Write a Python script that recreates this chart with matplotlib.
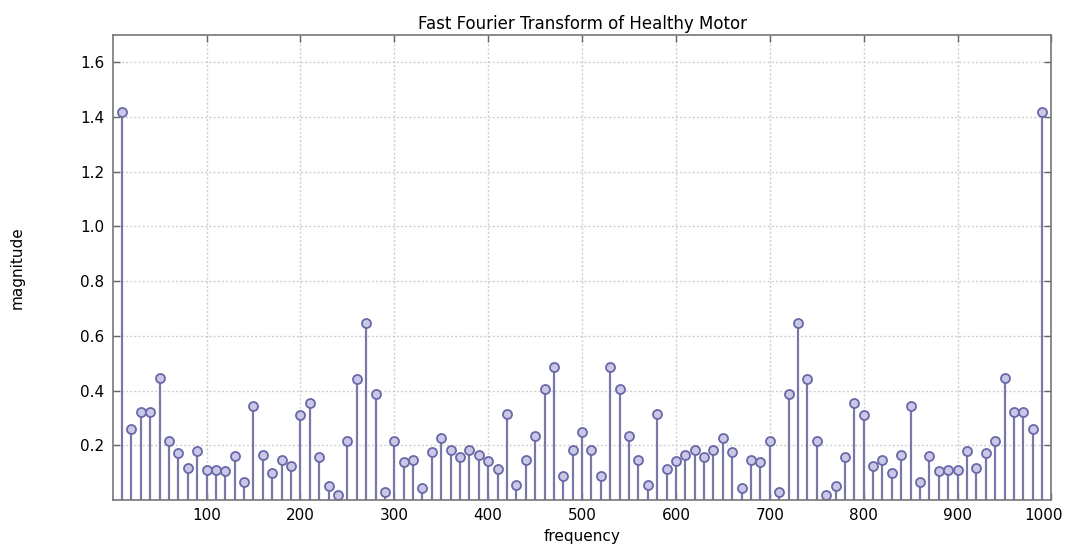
import numpy as np
import matplotlib
matplotlib.use('Agg')
import matplotlib.pyplot as plt
import matplotlib.transforms as mtransforms

# frequency bins and FFT magnitudes
freq = list(range(10, 1000, 10))
magnitude = [
    1.42, 0.26, 0.32, 0.32, 0.447, 0.215, 0.172, 0.118, 0.178, 0.108,
    0.108, 0.106, 0.16, 0.066, 0.342, 0.166, 0.10, 0.145, 0.126, 0.31,
    0.353, 0.156, 0.05, 0.019, 0.216, 0.444, 0.646, 0.389, 0.029, 0.216,
    0.138, 0.147, 0.044, 0.175, 0.228, 0.183, 0.156, 0.183, 0.165, 0.144,
    0.114, 0.313, 0.056, 0.145, 0.234, 0.404, 0.488, 0.088, 0.184, 0.247,
    0.184, 0.088, 0.488, 0.404, 0.234, 0.145, 0.056, 0.313, 0.114, 0.144,
    0.165, 0.183, 0.156, 0.183, 0.228, 0.175, 0.044, 0.147, 0.138, 0.216,
    0.029, 0.389, 0.646, 0.444, 0.216, 0.019, 0.05, 0.156, 0.353, 0.31,
    0.126, 0.145, 0.10, 0.166, 0.342, 0.066, 0.16, 0.106, 0.108, 0.108,
    0.178, 0.118, 0.172, 0.215, 0.447, 0.32, 0.32, 0.26, 1.42,
]
xticks = [100, 200, 300, 400, 500, 600, 700, 800, 900, 1000]
yticks = [0.2, 0.4, 0.6, 0.8, 1.0, 1.2, 1.4, 1.6]

fig = plt.figure(figsize=(10.68, 5.5), dpi=100)
ax = fig.add_axes([0.1055, 0.0909, 0.879, 0.8455])

markerline, stemlines, baseline = ax.stem(freq, magnitude, basefmt=' ')
plt.setp(stemlines, color='#7a78a8', linewidth=1.6)
plt.setp(markerline, marker='o', markersize=6.5, markerfacecolor='#c9c8e6',
         markeredgecolor='#6a68a8', markeredgewidth=1.3)

ax.set_xlim(0, 1000)
ax.set_ylim(0, 1.7)
ax.set_xticks(xticks)
ax.set_yticks(yticks)
ax.set_yticklabels(['{:.1f}'.format(v) for v in yticks])
ax.grid(True, linestyle=(0, (1.5, 1.5)), color='#cfcfcf', linewidth=1)
ax.set_axisbelow(True)
ax.tick_params(direction='in', length=5, width=1, color='#666666',
               top=True, right=True, labelsize=11, pad=6)
for s in ax.spines.values():
    s.set_color('#777777')
    s.set_linewidth(1.2)

# last x label is pulled inside the figure like in the reference
last = ax.get_xticklabels()[-1]
last.set_transform(last.get_transform() +
                   mtransforms.ScaledTranslation(-8 / 100, 0, fig.dpi_scale_trans))

ax.set_title('Fast Fourier Transform of Healthy Motor', fontsize=12, pad=4)
ax.set_xlabel('frequency', fontsize=11, labelpad=4)
ax.set_ylabel('magnitude', fontsize=11, labelpad=40)

plt.savefig('out.png')
plt.close(fig)
